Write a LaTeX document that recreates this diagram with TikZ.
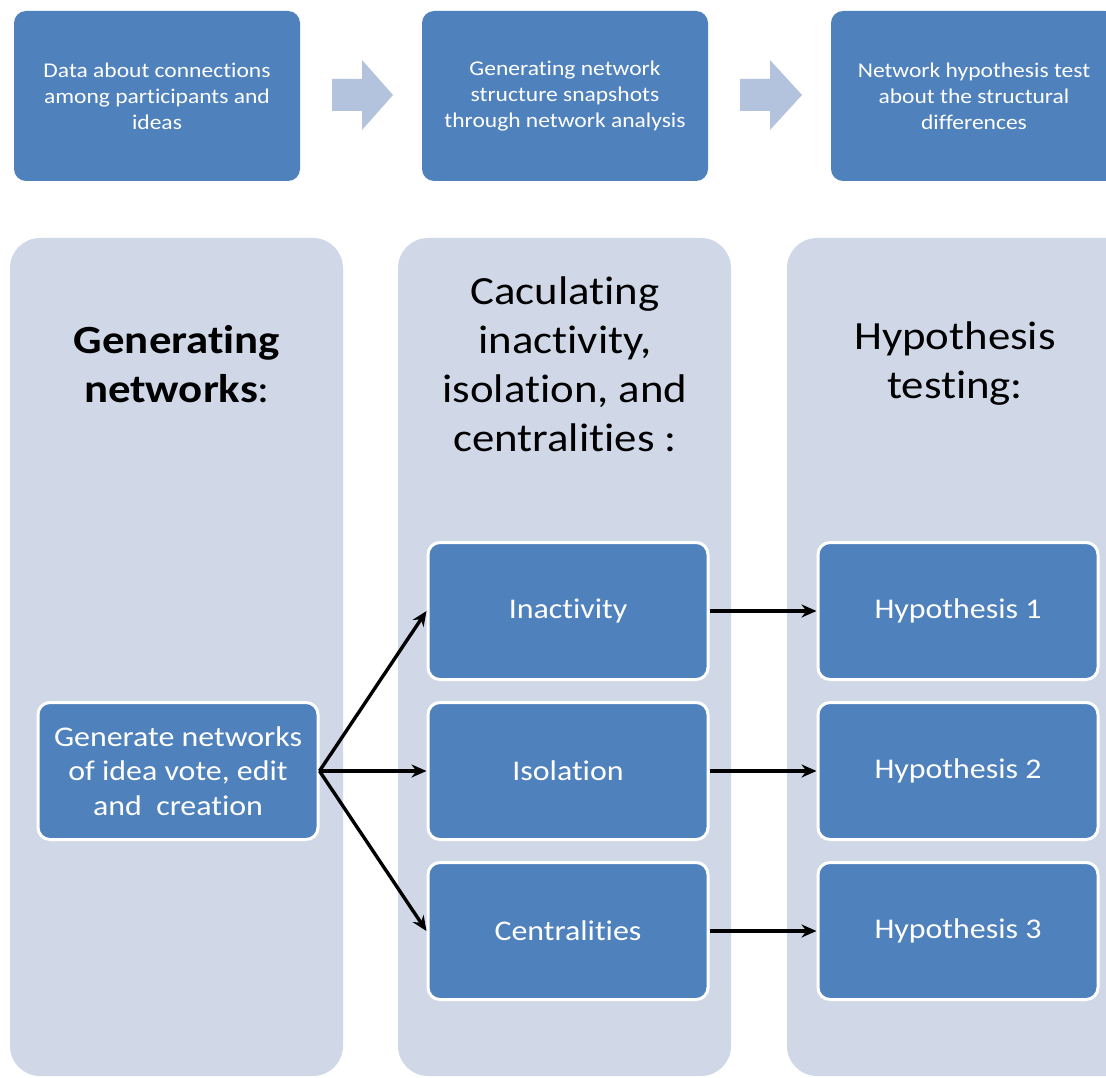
\documentclass[tikz,border=0pt]{standalone}
\usepackage{fontspec}
\setmainfont{Carlito}[Ligatures=NoCommon, FakeStretch=1.12]
\usetikzlibrary{arrows.meta}
\definecolor{boxblue}{HTML}{4F81BD}
\definecolor{panelgray}{HTML}{D0D8E8}
\definecolor{flowarrow}{HTML}{B3C2DD}
\tikzset{
  stagebox/.style={draw=none, fill=boxblue, rounded corners=12pt, text=white,
    minimum width=286pt, minimum height=170pt, align=center,
    font=\fontsize{21}{26}\selectfont, inner sep=0pt},
  panel/.style={fill=panelgray, rounded corners=30pt},
  itembox/.style={draw=white, line width=3pt, fill=boxblue, rounded corners=12pt,
    text=white, minimum width=280pt, minimum height=137pt, align=center,
    font=\fontsize{28.5}{34.5}\selectfont, inner sep=0pt},
  paneltitle/.style={align=center, font=\fontsize{40}{49}\selectfont, inner sep=0pt},
  link/.style={-{Stealth[length=15pt,width=13pt]}, line width=3.4pt, black},
}
\begin{document}
\begin{tikzpicture}[x=1pt,y=-1pt]
\useasboundingbox (0,0) rectangle (1106,1078);
\clip (0,0) rectangle (1106,1078);

% top flow: three stages joined by block arrows
\node[stagebox] (s1) at (157,96) {Data about connections\\among participants and\\ideas};
\node[stagebox] (s2) at (565,96) {Generating network\\structure snapshots\\through network analysis};
\node[stagebox] (s3) at (974,96) {Network hypothesis test\\about the structural\\differences};
\fill[flowarrow] (332,79) -- (362,79) -- (362,60) -- (393,95) -- (362,130) -- (362,111) -- (332,111) -- cycle;
\fill[flowarrow] (740,79) -- (770,79) -- (770,60) -- (802,95) -- (770,130) -- (770,111) -- (740,111) -- cycle;

% background panels
\fill[panel] (10,238) rectangle (343,1076);
\fill[panel] (398,238) rectangle (731,1076);
\fill[panel] (787,238) rectangle (1140,1076);

% panel titles
\node[paneltitle] (t1) at (177,364) {\textbf{Generating}\\\textbf{networks}:};
\node[paneltitle] (t2) at (565,364) {Caculating\\inactivity,\\isolation, and\\centralities :};
\node[paneltitle] (t3) at (955,364) {Hypothesis\\testing:};

% inner boxes
\node[itembox] (gen) at (178,771) {Generate networks\\of idea vote, edit\\and\ \ creation};
\node[itembox] (inact) at (568,611) {Inactivity};
\node[itembox] (isol) at (568,771) {Isolation};
\node[itembox] (cent) at (568,931) {Centralities};
\node[itembox] (h1) at (958,611) {Hypothesis 1};
\node[itembox] (h2) at (958,771) {Hypothesis 2};
\node[itembox] (h3) at (958,931) {Hypothesis 3};

% connectors
\draw[link] (gen.east) -- (inact.west);
\draw[link] (gen.east) -- (isol.west);
\draw[link] (gen.east) -- (cent.west);
\draw[link] (inact.east) -- (h1.west);
\draw[link] (isol.east) -- (h2.west);
\draw[link] (cent.east) -- (h3.west);
\end{tikzpicture}
\end{document}
